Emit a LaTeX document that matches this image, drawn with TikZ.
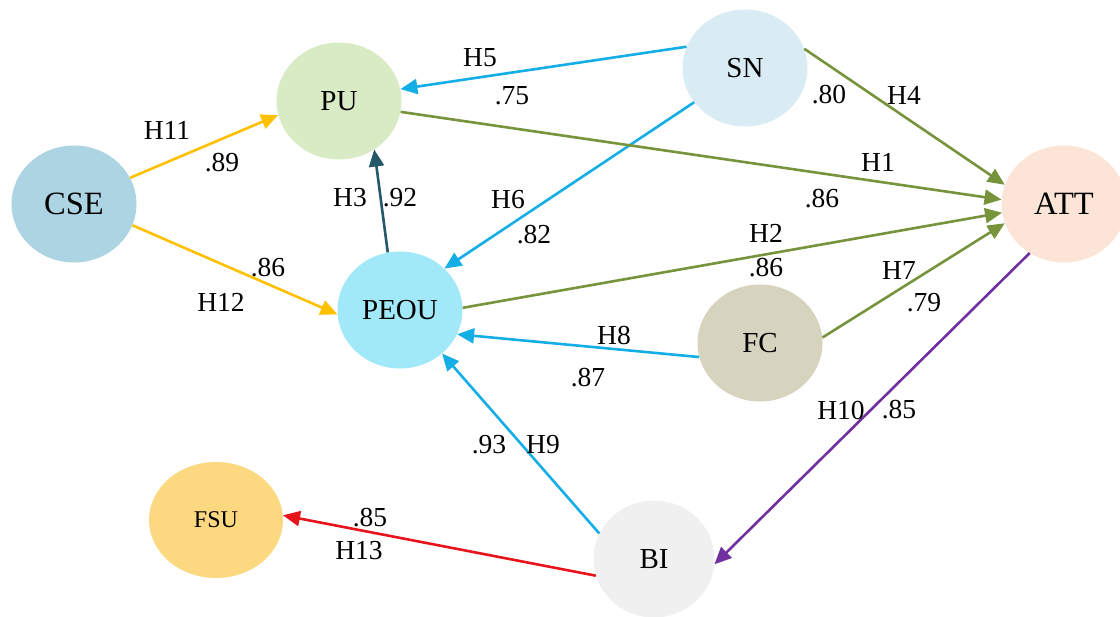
\documentclass[tikz,border=0pt]{standalone}
\usepackage{fontspec}
\setmainfont{Liberation Serif}
\usetikzlibrary{shapes}
\usetikzlibrary{arrows.meta}

\definecolor{csefill}{RGB}{172,212,226}
\definecolor{pufill}{RGB}{217,235,196}
\definecolor{snfill}{RGB}{218,236,243}
\definecolor{attfill}{RGB}{252,228,214}
\definecolor{peoufill}{RGB}{161,233,249}
\definecolor{fcfill}{RGB}{214,211,190}
\definecolor{fsufill}{RGB}{252,217,128}
\definecolor{bifill}{RGB}{240,240,240}
\definecolor{yellowlink}{RGB}{255,192,0}
\definecolor{bluelink}{RGB}{20,174,230}
\definecolor{teallink}{RGB}{36,88,104}
\definecolor{greenlink}{RGB}{119,147,60}
\definecolor{purplelink}{RGB}{112,48,160}
\definecolor{redlink}{RGB}{232,20,27}

\begin{document}
\begin{tikzpicture}[x=1pt,y=-1pt,
  construct/.style={ellipse,minimum width=125pt,minimum height=117pt,inner sep=0pt,
    font=\fontsize{29}{31}\selectfont},
  link/.style={line width=2.6pt,-{Triangle[length=17pt,width=15pt]}},
  lbl/.style={font=\fontsize{27.5}{30}\selectfont}]
  \useasboundingbox (0,0) rectangle (1120,617);

  % constructs
  \node [construct,fill=csefill,font=\fontsize{32.5}{34}\selectfont] (CSE) at (74,204) {CSE};
  \node [construct,fill=pufill] (PU) at (339,101) {PU};
  \node [construct,fill=peoufill] (PEOU) at (400,310) {PEOU};
  \node [construct,fill=snfill] (SN) at (745,68) {SN};
  \node [construct,fill=attfill,font=\fontsize{32.5}{34}\selectfont] (ATT) at (1064,204) {ATT};
  \node [construct,fill=fcfill] (FC) at (760,343) {FC};
  \node [construct,fill=fsufill,minimum width=134pt,minimum height=116pt,
    font=\fontsize{24}{26}\selectfont] (FSU) at (216,520) {FSU};
  \node [construct,fill=bifill,minimum width=121pt] (BI) at (654,559) {BI};

  % hypotheses
  \draw [link,yellowlink] (CSE.25) -- (PU.193);
  \draw [link,yellowlink] (CSE.-20) -- (PEOU.184);
  \draw [link,bluelink] (SN.160) -- (PU.11);
  \draw [link,bluelink] (SN.214) -- (PEOU.43);
  \draw [link,greenlink] (PU.-10) -- (ATT.176);
  \draw [link,greenlink] (PEOU.2) -- (ATT.188);
  \draw [link,greenlink] (SN.18) -- (ATT.162);
  \draw [link,greenlink] (FC.5) -- (ATT.198);
  \draw [link,teallink] (PEOU.102) -- (PU.306);
  \draw [link,bluelink] (FC.193) -- (PEOU.-23);
  \draw [link,bluelink] (BI.155) -- (PEOU.-46);
  \draw [link,purplelink] (ATT.235) -- (BI.-5);
  \draw [link,redlink] (BI.196) -- (FSU.4);

  % labels
  \node [lbl] (h11) at (167,130) {H11};
  \node [lbl] (c11) at (222,163) {.89};
  \node [lbl] (h12) at (221,302) {H12};
  \node [lbl] (c12) at (268,268) {.86};
  \node [lbl] (h5) at (480,58) {H5};
  \node [lbl] (c5) at (512,96) {.75};
  \node [lbl] (h6) at (508,200) {H6};
  \node [lbl] (c6) at (534,235) {.82};
  \node [lbl] (h3) at (350,198) {H3};
  \node [lbl] (c3) at (400,198) {.92};
  \node [lbl] (h1) at (878,162) {H1};
  \node [lbl] (c1) at (822,199) {.86};
  \node [lbl] (h4) at (904,95) {H4};
  \node [lbl] (c4) at (829,95) {.80};
  \node [lbl] (h2) at (766,233) {H2};
  \node [lbl] (c2) at (766,268) {.86};
  \node [lbl] (h7) at (899,270) {H7};
  \node [lbl] (c7) at (924,303) {.79};
  \node [lbl] (h8) at (614,335) {H8};
  \node [lbl] (c8) at (588,378) {.87};
  \node [lbl] (h9) at (543,445) {H9};
  \node [lbl] (c9) at (489,445) {.93};
  \node [lbl] (h10) at (841,410) {H10};
  \node [lbl] (c10) at (899,410) {.85};
  \node [lbl] (h13) at (359,551) {H13};
  \node [lbl] (c13) at (370,518) {.85};
\end{tikzpicture}
\end{document}
